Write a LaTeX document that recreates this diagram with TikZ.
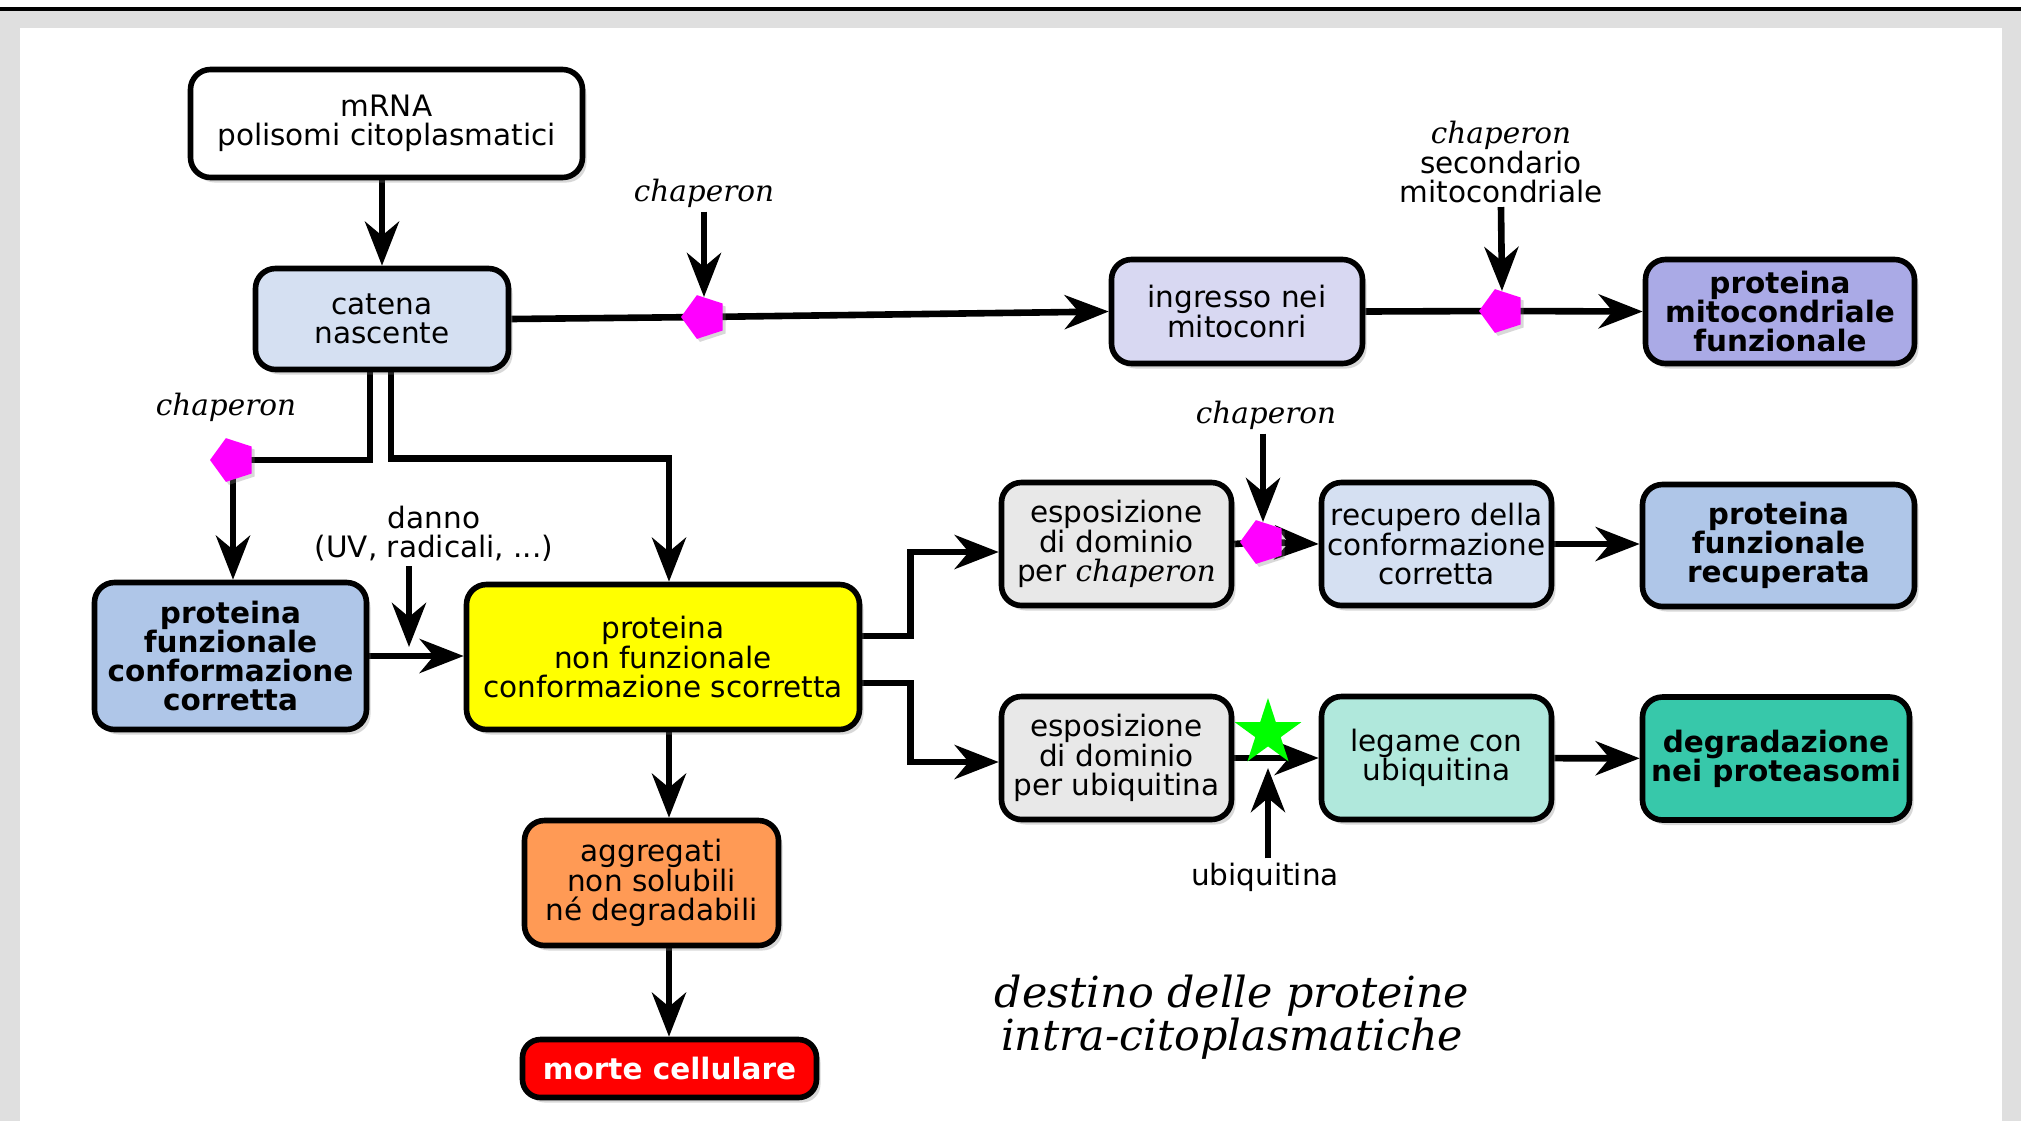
\documentclass[tikz,border=0pt]{standalone}
\usepackage{fontspec}
\setmainfont{DejaVu Sans}
\newfontfamily\chapfont{DejaVu Serif}
\usepackage{tikz}
\usetikzlibrary{arrows.meta}
\usetikzlibrary{calc}
\usetikzlibrary{shapes.geometric}
\usetikzlibrary{shadows}
\usetikzlibrary{backgrounds}
\newcommand{\chap}{{\chapfont\itshape chaperon}}
\definecolor{framegray}{HTML}{DFDFDF}
\definecolor{catfill}{HTML}{D5E0F2}
\definecolor{ingrfill}{HTML}{D8D8F2}
\definecolor{mitofill}{HTML}{AAAAE6}
\definecolor{corrfill}{HTML}{AFC6E8}
\definecolor{espfill}{HTML}{E8E8E8}
\definecolor{legfill}{HTML}{B0E8DC}
\definecolor{degrfill}{HTML}{37C8AA}
\definecolor{aggrfill}{HTML}{FF9A55}
\definecolor{nfunzfill}{HTML}{FFFF00}
\definecolor{mortefill}{HTML}{FF0000}
\definecolor{pentfill}{HTML}{FF00FF}
\definecolor{starfill}{HTML}{00FF00}
\tikzset{
	box/.style={shape=rectangle,draw,line width=2.8pt,rounded corners=10pt,inner sep=0pt,align=center,
		font=\fontsize{14.75}{14.6}\selectfont,drop shadow={shadow xshift=2pt,shadow yshift=-2.5pt,opacity=0.3}},
	lbl/.style={align=center,inner sep=2pt,font=\fontsize{14.75}{14.6}\selectfont},
	conn/.style={line width=3.3pt},
	arr/.style={conn,-{Stealth[length=22pt,width=17pt,inset=7pt]}},
	pent/.style={regular polygon,regular polygon sides=5,shape border rotate=90,fill=pentfill,minimum size=23pt,inner sep=0pt,
		drop shadow={shadow xshift=1.5pt,shadow yshift=-1.5pt,opacity=0.3}},
	ubstar/.style={star,star points=5,star point ratio=2.618,fill=starfill,minimum size=35pt,inner sep=0pt}
}

\begin{document}
\begin{tikzpicture}[x=0.5pt,y=-0.5pt]
	\useasboundingbox (0,0) rectangle (2026,1121);
	% cornice
	\begin{scope}[on background layer]
	\fill[framegray] (0,11) rectangle (2021,1121);
	\fill[white] (20,28) rectangle (2002,1121);
	\draw[line width=2pt] (0,9) -- (2021,9);
	\end{scope}

	\node (mrna) [box,fill=white,minimum width=196pt,minimum height=54pt] at (386.5,123.5) {mRNA\\polisomi citoplasmatici};
	\node (cat) [box,fill=catfill,minimum width=126.5pt,minimum height=50.5pt] at (382,319) {catena\\nascente};
	\node (ingr) [box,fill=ingrfill,minimum width=125.5pt,minimum height=52pt] at (1237,311.5) {ingresso nei\\mitoconri};
	\node (mito) [box,fill=mitofill,minimum width=134.5pt,minimum height=52pt,font=\fontsize{14.75}{14.6}\selectfont\bfseries] at (1780,311.5) {proteina\\mitocondriale\\funzionale};
	\node (fcorr) [box,fill=corrfill,minimum width=136pt,minimum height=73.5pt,font=\fontsize{14.75}{14.6}\selectfont\bfseries] at (230.5,656) {proteina\\funzionale\\conformazione\\corretta};
	\node (nfunz) [box,fill=nfunzfill,minimum width=196.5pt,minimum height=72.5pt] at (663,657) {proteina\\non funzionale\\conformazione scorretta};
	\node (espc) [box,fill=espfill,minimum width=115pt,minimum height=61.5pt] at (1116.5,544) {esposizione\\di dominio\\per \chap};
	\node (recup) [box,fill=catfill,minimum width=115pt,minimum height=61.5pt] at (1436.5,544) {recupero della\\conformazione\\corretta};
	\node (recb) [box,fill=corrfill,minimum width=136pt,minimum height=61pt,font=\fontsize{14.75}{14.6}\selectfont\bfseries] at (1778.5,545.5) {proteina\\funzionale\\recuperata};
	\node (espu) [box,fill=espfill,minimum width=115pt,minimum height=61.5pt] at (1116.5,758) {esposizione\\di dominio\\per ubiquitina};
	\node (leg) [box,fill=legfill,minimum width=115pt,minimum height=61.5pt] at (1436.5,758) {legame con\\ubiquitina};
	\node (degr) [box,fill=degrfill,minimum width=133.5pt,minimum height=61.5pt,font=\fontsize{14.75}{14.6}\selectfont\bfseries] at (1776,758.5) {degradazione\\nei proteasomi};
	\node (aggr) [box,fill=aggrfill,minimum width=127pt,minimum height=62.5pt] at (651.5,883) {aggregati\\non solubili\\né degradabili};
	\node (morte) [box,fill=mortefill,text=white,rounded corners=9pt,minimum width=147pt,minimum height=29pt,font=\fontsize{14.75}{14.6}\selectfont\bfseries] at (669.5,1068.5) {morte cellulare};

	\node (p1) [pent] at (704,317) {};
	\node (p2) [pent] at (1502,311) {};
	\node (p3) [pent] at (233,460) {};
	\node (p4) [pent] at (1263,542) {};
	\node (st) [ubstar] at (1268,733) {};

	\node (c1) [lbl] at (704,193) {\chap};
	\node (c2) [lbl] at (1501,162) {\chap\\secondario\\mitocondriale};
	\node (c3) [lbl] at (226,407) {\chap};
	\node (c4) [lbl] at (1266,415) {\chap};
	\node (danno) [lbl] at (434,534) {danno\\(UV, radicali, ...)};
	\node (ubq) [lbl] at (1265,877) {ubiquitina};
	\node (titolo) [align=center,font=\chapfont\itshape\fontsize{21.4}{21.5}\selectfont] at (1232,1017) {destino delle proteine\\intra-citoplasmatiche};

	\coordinate (dend) at (409,647);
	\coordinate (k) at ($(nfunz.north)+(6,0)$);
	\coordinate (ax) at ($(nfunz.south)+(6,0)$);

	\begin{scope}[on background layer]
	\draw[arr] (cat |- mrna.south) -- (cat.north);
	\draw[arr] (cat.east) -- (p1.center) -- (ingr.west);
	\draw[arr] (ingr.east) -- (p2.center) -- (mito.west);
	\draw[arr] (c1.south) -- (p1.north);
	\draw[arr] (c2.south) -- (p2.north);
	\draw[conn] ($(cat.south)+(-12,0)$) |- (p3.center);
	\draw[arr] (p3.center) -- (p3 |- fcorr.north);
	\draw[arr] ($(cat.south)+(9,0)$) |- ($(k)+(0,-123)$) -- (k);
	\draw[arr] (danno.south -| dend) -- (dend);
	\draw[arr] (fcorr.east) -- (fcorr.east -| nfunz.west);
	\draw[arr] ($(nfunz.east)+(0,-21)$) -| ($(espc.west)+(-88,8)$) -- ($(espc.west)+(0,8)$);
	\draw[arr] ($(nfunz.east)+(0,26)$) -| ($(espu.west)+(-88,4)$) -- ($(espu.west)+(0,4)$);
	\draw[arr] (espc.east) -- (p4.center) -- (recup.west);
	\draw[arr] (c4.south -| p4) -- (p4.north);
	\draw[arr] (recup.east) -- (recup.east -| recb.west);
	\draw[arr] (espu.east) -- (leg.west);
	\draw[arr] (ubq.north -| st) -- ($(st)+(0,35)$);
	\draw[arr] (leg) -- (degr);
	\draw[arr] (ax) -- (ax |- aggr.north);
	\draw[arr] (aggr.south -| ax) -- (ax |- morte.north);
	\end{scope}
\end{tikzpicture}
\end{document}
